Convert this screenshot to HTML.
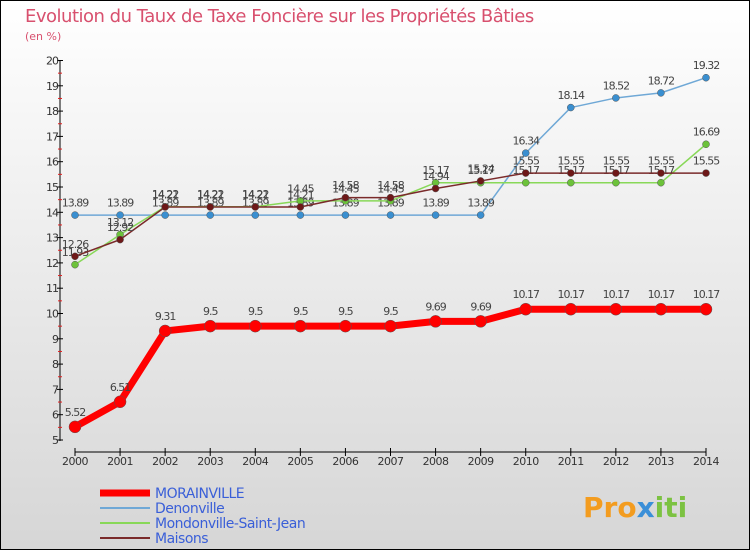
<!DOCTYPE html>
<html><head><meta charset="utf-8"><style>
body{margin:0;width:750px;height:550px;overflow:hidden;font-family:"DejaVu Sans","Liberation Sans",sans-serif}
svg text{font-family:"DejaVu Sans","Liberation Sans",sans-serif}
</style></head><body>
<svg id="c" width="750" height="550" xmlns="http://www.w3.org/2000/svg">
<defs><linearGradient id="bg" x1="0" y1="0" x2="0" y2="1"><stop offset="0" stop-color="#ffffff"/><stop offset="1" stop-color="#d6d6d6"/></linearGradient></defs>
<rect x="0.5" y="0.5" width="749" height="549" fill="url(#bg)" stroke="#000"/>
<text x="25" y="22" font-size="18" fill="#d8506e" letter-spacing="-0.5">Evolution du Taux de Taxe Foncière sur les Propriétés Bâties</text>
<text x="25" y="40" font-size="11" fill="#d8506e">(en %)</text>
<g id="axes"></g><g id="series"></g><g id="legend"></g>
<text x="583" y="517" font-size="28" font-weight="bold" fill="#f39c1f">Pro<tspan fill="#3a8fd8">x</tspan><tspan fill="#7cc242">iti</tspan></text>
</svg>
<script>
const years=[2000,2001,2002,2003,2004,2005,2006,2007,2008,2009,2010,2011,2012,2013,2014];
const yTicks=[5,6,7,8,9,10,11,12,13,14,15,16,17,18,19,20];
const morainville=[5.52,6.51,9.31,9.5,9.5,9.5,9.5,9.5,9.69,9.69,10.17,10.17,10.17,10.17,10.17];
const denonville=[13.89,13.89,13.89,13.89,13.89,13.89,13.89,13.89,13.89,13.89,16.34,18.14,18.52,18.72,19.32];
const mondonville=[11.93,13.12,14.22,14.22,14.22,14.45,14.45,14.45,15.17,15.17,15.17,15.17,15.17,15.17,16.69];
const maisons=[12.26,12.92,14.21,14.21,14.21,14.21,14.58,14.58,14.94,15.24,15.55,15.55,15.55,15.55,15.55];
const NS="http://www.w3.org/2000/svg";
const X=i=>75+i*(706-75)/(years.length-1);
const Y=v=>440-(v-5)*(440-60.5)/15;
function mk(tag,attrs,parent,txt){const e=document.createElementNS(NS,tag);for(const k in attrs)e.setAttribute(k,attrs[k]);if(txt!==undefined)e.textContent=txt;parent.appendChild(e);return e;}
const ax=document.getElementById('axes');
let a=mk('line',{x1:60,y1:60,x2:60,y2:441,stroke:'#000'},ax);


yTicks.forEach(t=>{
 mk('line',{x1:57,x2:63,y1:Y(t),y2:Y(t),stroke:'#000'},ax);
 if(t<20)mk('line',{x1:58,x2:62,y1:Y(t+0.5),y2:Y(t+0.5),stroke:'#e02020'},ax);
 let l=mk('text',{x:58,y:Y(t)+4,'font-size':11,'text-anchor':'end',fill:'#333','letter-spacing':'-1'},ax,t);
 
 
});
let xa=mk('line',{x1:75,y1:452,x2:706,y2:452,stroke:'#000'},ax);


years.forEach((yr,i)=>{
 mk('line',{x1:X(i),x2:X(i),y1:448,y2:456,stroke:'#000'},ax);
 let l=mk('text',{x:X(i),y:465,'font-size':11,'text-anchor':'middle',fill:'#333','letter-spacing':'-0.5'},ax,yr);
 
 
});
const sg=document.getElementById('series');
function series(name,vals,color,dot,w,r,fs){
 const g=mk('g',{},sg);
 
 
 let p=mk('polyline',{points:vals.map((v,i)=>X(i)+','+Y(v)).join(' '),fill:'none',stroke:color,'stroke-width':w,'stroke-linejoin':'round'},g);
 
 
 vals.forEach((v,i)=>{
  let c=mk('circle',{cx:X(i),cy:Y(v),r:r,fill:dot,stroke:'#555','stroke-width':0.5},g);
  
  
  let t=mk('text',{x:X(i),y:Y(v)-(r+5),'font-size':fs,'text-anchor':'middle',fill:'#444','letter-spacing':'-1'},g,v);
  
  
 });
}
series('denonville',denonville,'#6fa8d6','#3a8fd0',1.5,3.5,11);
series('mondonville',mondonville,'#88d858','#6cc23a',1.5,3.5,11);
series('maisons',maisons,'#7a2a2a','#6e1818',1.5,3.5,11);
series('morainville',morainville,'#ff0000','#ff0000',7,6,11);
const lg=document.getElementById('legend');
const legItems=[['MORAINVILLE','#ff0000',7],['Denonville','#6fa8d6',2],['Mondonville-Saint-Jean','#88d858',2],['Maisons','#7a2a2a',2]];
legItems.forEach((it,i)=>{
 const y=493+i*15;
 const g=mk('g',{},lg);
 
 
 mk('line',{x1:100,x2:150,y1:y,y2:y,stroke:it[1],'stroke-width':it[2]},g);
 mk('text',{x:155,y:y+5,'font-size':14,fill:'#3a5fd8','letter-spacing':'-0.5'},g,it[0]);
});
</script>
</body></html>
